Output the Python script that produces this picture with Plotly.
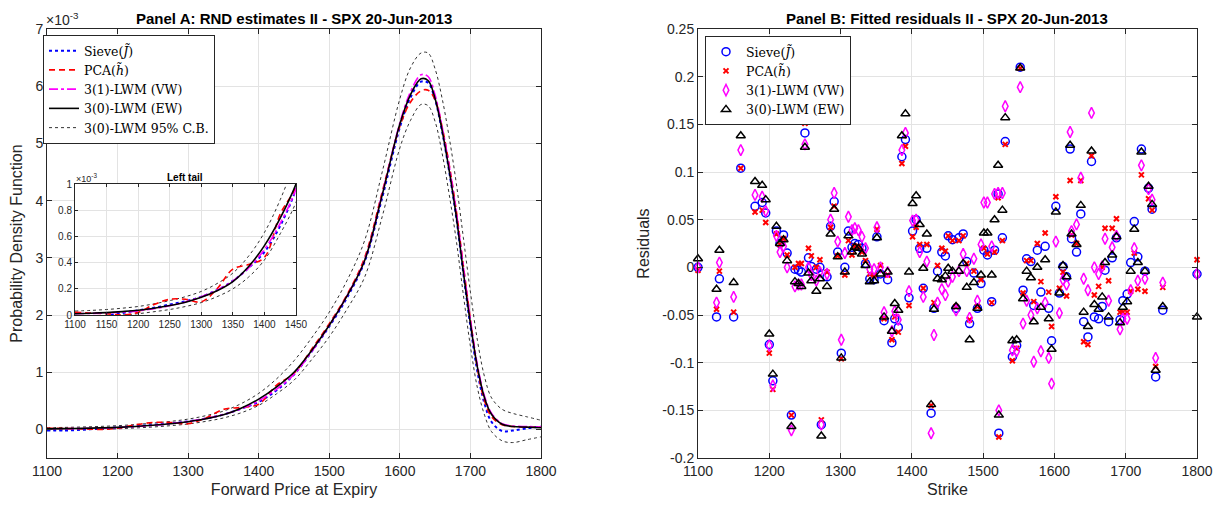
import plotly.graph_objects as go

# ---------------- Panel A data (density in units of 1e-3) ----------------
fwd_price = [1100, 1125, 1150, 1175, 1200, 1225, 1250, 1275, 1300, 1325, 1350, 1375,
             1400, 1425, 1450, 1475, 1500, 1525, 1550, 1575, 1600, 1615, 1630, 1640,
             1650, 1660, 1670, 1680, 1690, 1700, 1710, 1720, 1730, 1745, 1760, 1780, 1800]

pdf_sieve = [-0.02, -0.02, -0.005, 0.015, 0.035, 0.055, 0.08, 0.105, 0.14, 0.19, 0.26, 0.36,
             0.48, 0.68, 0.96, 1.36, 1.80, 2.30, 2.93, 4.05, 5.28, 5.80, 6.08, 6.06,
             5.76, 5.20, 4.50, 3.70, 2.72, 1.80, 1.00, 0.45, 0.13, -0.03, -0.02, 0.02, 0.05]

pdf_pca = [0.02, 0.015, 0.01, 0.0, 0.02, 0.08, 0.12, 0.12, 0.10, 0.20, 0.35, 0.385,
           0.44, 0.77, 0.98, 1.40, 1.85, 2.35, 3.00, 4.15, 5.30, 5.72, 5.92, 5.93,
           5.76, 5.28, 4.62, 3.82, 2.86, 1.92, 1.06, 0.50, 0.22, 0.08, 0.05, 0.04, 0.04]

pdf_vw = [0.01, 0.012, 0.016, 0.022, 0.032, 0.048, 0.07, 0.10, 0.14, 0.19, 0.26, 0.36,
          0.50, 0.70, 0.96, 1.36, 1.82, 2.33, 2.96, 4.12, 5.36, 5.90, 6.20, 6.17,
          5.84, 5.28, 4.60, 3.80, 2.84, 1.92, 1.12, 0.58, 0.28, 0.10, 0.06, 0.05, 0.04]

pdf_ew = [0.010, 0.013, 0.018, 0.026, 0.036, 0.052, 0.072, 0.098, 0.135, 0.185, 0.255, 0.37,
          0.53, 0.74, 1.00, 1.38, 1.82, 2.33, 2.95, 4.10, 5.34, 5.85, 6.13, 6.10,
          5.78, 5.22, 4.52, 3.72, 2.75, 1.85, 1.08, 0.55, 0.26, 0.09, 0.05, 0.04, 0.03]

pdf_cb_up = [0.03, 0.035, 0.042, 0.052, 0.065, 0.085, 0.11, 0.14, 0.18, 0.24, 0.32, 0.45,
             0.63, 0.88, 1.20, 1.60, 2.05, 2.60, 3.30, 4.50, 5.78, 6.32, 6.58, 6.58,
             6.30, 5.78, 5.10, 4.30, 3.35, 2.40, 1.55, 0.92, 0.55, 0.35, 0.28, 0.22, 0.16]

pdf_cb_lo = [-0.015, -0.012, -0.006, 0.0, 0.01, 0.025, 0.042, 0.065, 0.095, 0.14, 0.20, 0.29,
             0.42, 0.62, 0.86, 1.22, 1.62, 2.10, 2.66, 3.72, 4.92, 5.40, 5.68, 5.66,
             5.38, 4.82, 4.10, 3.30, 2.35, 1.45, 0.72, 0.25, -0.04, -0.20, -0.23, -0.18, -0.13]

# ---------------- Panel B data (residuals) ----------------
strike = [1100, 1126, 1130, 1150, 1160, 1180, 1190, 1195, 1200, 1205, 1210, 1215, 1220, 1225,
          1231, 1236, 1241, 1245, 1250, 1255, 1259, 1266, 1271, 1273, 1281, 1286, 1291, 1296,
          1301, 1306, 1311, 1316, 1320, 1325, 1330, 1335, 1341, 1347, 1351, 1356, 1361, 1366,
          1372, 1376, 1381, 1386, 1391, 1396, 1401, 1406, 1411, 1416, 1421, 1427, 1431, 1436,
          1442, 1447, 1451, 1457, 1462, 1466, 1472, 1477, 1481, 1487, 1492, 1497, 1501, 1506,
          1512, 1516, 1521, 1522, 1527, 1531, 1541, 1547, 1552, 1556, 1561, 1567, 1571, 1576,
          1581, 1587, 1592, 1596, 1602, 1607, 1612, 1617, 1622, 1624, 1631, 1637, 1641, 1647,
          1652, 1656, 1662, 1667, 1671, 1676, 1681, 1687, 1692, 1696, 1702, 1707, 1712, 1717,
          1722, 1727, 1732, 1737, 1742, 1752, 1800]

res_sieve = [0.000, -0.052, -0.012, -0.052, 0.104, 0.064, 0.068, 0.057, -0.081, -0.119, 0.038, 0.025, 0.034, 0.015,
             -0.155, -0.002, -0.003, -0.005, 0.141, 0.010, 0.001, -0.002, 0.000, -0.165, -0.010, 0.043, 0.069, 0.016,
             -0.090, 0.000, 0.038, 0.021, 0.025, 0.024, 0.020, 0.004, -0.012, -0.013, 0.032, -0.007, -0.056, -0.013,
             -0.079, -0.054, -0.063, 0.116, 0.134, -0.032, 0.038, 0.050, 0.020, -0.022, 0.020, -0.153, -0.043, -0.004,
             0.016, 0.012, 0.033, 0.029, -0.043, 0.031, 0.035, 0.006, -0.059, -0.006, -0.043, -0.017, 0.018, 0.013,
             -0.036, 0.018, 0.077, -0.174, 0.031, 0.132, -0.094, -0.082, 0.210, -0.024, 0.009, 0.006, -0.040, 0.018,
             -0.026, 0.022, -0.043, -0.077, 0.064, -0.027, 0.001, -0.010, 0.124, 0.030, 0.016, 0.056, -0.057, -0.073,
             0.111, -0.052, -0.054, -0.041, -0.003, -0.057, 0.010, 0.031, -0.055, -0.035, -0.028, 0.005, 0.048, 0.011,
             0.124, -0.004, 0.083, 0.061, -0.115, -0.045, -0.007]

res_pca = [-0.003, -0.044, -0.004, -0.047, 0.104, 0.058, 0.060, 0.047, -0.090, -0.128, 0.035, 0.024, 0.030, 0.013,
           -0.155, 0.000, 0.004, 0.004, 0.151, 0.020, 0.012, 0.000, 0.008, -0.160, -0.005, 0.042, 0.064, 0.012,
           -0.096, -0.008, 0.028, 0.013, 0.022, 0.022, 0.016, 0.007, -0.007, -0.008, 0.040, 0.002, -0.054, -0.008,
           -0.076, -0.052, -0.068, 0.109, 0.127, -0.040, 0.032, 0.042, 0.024, -0.022, 0.024, -0.145, -0.037, 0.002,
           0.020, 0.017, 0.033, 0.028, -0.041, 0.028, 0.033, 0.004, -0.055, -0.004, -0.041, -0.013, 0.020, 0.014,
           -0.037, 0.016, 0.073, -0.178, 0.028, 0.129, -0.098, -0.085, 0.209, -0.027, 0.007, 0.007, -0.036, 0.025,
           -0.015, 0.036, -0.026, -0.062, 0.074, -0.022, -0.005, -0.030, 0.091, 0.034, 0.025, 0.091, -0.078, -0.081,
           0.117, -0.029, -0.020, 0.000, 0.041, -0.014, 0.041, 0.051, -0.047, -0.047, -0.047, -0.025, 0.015, -0.023,
           0.097, -0.025, 0.072, 0.060, -0.104, -0.021, 0.008]

res_vw = [0.000, -0.037, 0.005, -0.031, 0.123, 0.076, 0.074, 0.059, -0.082, -0.124, 0.033, 0.016, 0.022, 0.000,
          -0.171, -0.020, -0.018, -0.018, 0.129, 0.000, -0.008, -0.014, -0.005, -0.165, -0.007, 0.050, 0.078, 0.027,
          -0.076, 0.015, 0.053, 0.039, 0.041, 0.039, 0.032, 0.020, -0.002, -0.002, 0.042, 0.000, -0.047, -0.005,
          -0.067, -0.046, -0.055, 0.123, 0.141, -0.025, 0.049, 0.050, 0.016, -0.031, 0.006, -0.174, -0.071, -0.037,
          -0.023, -0.029, -0.015, -0.010, -0.045, -0.004, 0.014, -0.004, -0.053, 0.009, -0.035, 0.024, 0.068, 0.068,
          0.022, 0.077, 0.078, -0.150, 0.078, 0.169, -0.087, -0.088, 0.189, -0.059, -0.035, -0.050, -0.099, -0.043,
          -0.088, -0.037, -0.095, -0.122, 0.027, -0.048, -0.013, -0.018, 0.142, 0.038, 0.045, 0.094, -0.012, -0.024,
          0.162, 0.000, -0.007, 0.001, 0.030, -0.035, 0.021, 0.033, -0.065, -0.054, -0.054, -0.024, 0.020, -0.014,
          0.107, -0.012, 0.082, 0.071, -0.095, -0.016, -0.007]

res_ew = [0.009, -0.023, 0.018, -0.016, 0.138, 0.090, 0.086, 0.071, -0.070, -0.112, 0.043, 0.025, 0.029, 0.007,
          -0.167, -0.015, -0.017, -0.020, 0.126, -0.006, -0.014, -0.025, -0.012, -0.177, -0.020, 0.035, 0.061, 0.011,
          -0.095, -0.005, 0.033, 0.016, 0.021, 0.020, 0.014, 0.002, -0.015, -0.014, 0.031, -0.007, -0.052, -0.005,
          -0.067, -0.038, -0.045, 0.138, 0.161, -0.005, 0.067, 0.075, 0.045, -0.001, 0.035, -0.144, -0.044, -0.012,
          -0.013, -0.009, -0.001, -0.004, -0.041, -0.004, 0.004, -0.021, -0.076, -0.016, -0.043, -0.008, 0.036, 0.036,
          -0.008, 0.050, 0.107, -0.155, 0.060, 0.157, -0.077, -0.076, 0.209, -0.033, -0.004, -0.011, -0.057, 0.000,
          -0.042, 0.008, -0.054, -0.086, 0.058, -0.027, 0.002, -0.010, 0.128, 0.035, 0.024, 0.065, -0.047, -0.062,
          0.122, -0.039, -0.044, -0.031, 0.005, -0.052, 0.013, 0.032, -0.058, -0.042, -0.036, -0.004, 0.040, 0.005,
          0.121, -0.004, 0.085, 0.066, -0.108, -0.041, -0.052]

# ---------------- tick labels ----------------
xticks_main = [1100, 1200, 1300, 1400, 1500, 1600, 1700, 1800]
yticks_a = [0, 1, 2, 3, 4, 5, 6, 7]
xticks_inset = [1100, 1150, 1200, 1250, 1300, 1350, 1400, 1450]
yticks_inset = [0, 0.2, 0.4, 0.6, 0.8, 1]
yticks_inset_text = ["0", "0.2", "0.4", "0.6", "0.8", "1"]
yticks_b = [-0.2, -0.15, -0.1, -0.05, 0, 0.05, 0.1, 0.15, 0.2, 0.25]
yticks_b_text = ["-0.2", "-0.15", "-0.1", "-0.05", "0", "0.05", "0.1", "0.15", "0.2", "0.25"]

SANS = "Liberation Sans, Arial, Helvetica, sans-serif"
SERIF = "DejaVu Serif, Liberation Serif, serif"
AX = "#262626"
GRID = "#e3e3e3"

W, H = 1226, 512
OFF = 8  # page body margin offset


def px(x):
    return (x - OFF) / W


def py(y):
    return 1 - (y - OFF) / H


fig = go.Figure()

line_series = [
    ("Sieve(<i>J̃</i>)", pdf_sieve, dict(color="#0000ff", width=2, dash="dot"), 1),
    ("PCA(<i>h̃</i>)", pdf_pca, dict(color="#ff0000", width=1.6, dash="6px,4px"), 2),
    ("3(1)-LWM (VW)", pdf_vw, dict(color="#ff00ff", width=1.6, dash="dashdot"), 3),
    ("3(0)-LWM (EW)", pdf_ew, dict(color="#000000", width=1.6), 4),
]
cb_line = dict(color="#333333", width=1, dash="dot")

for xa, ya, show in [("x", "y", True), ("x3", "y3", False)]:
    fig.add_trace(go.Scatter(x=fwd_price, y=pdf_cb_up, mode="lines", line=cb_line, line_shape="spline",
                             name="3(0)-LWM 95% C.B.", legend="legend", legendrank=5,
                             showlegend=show, xaxis=xa, yaxis=ya, hoverinfo="skip"))
    fig.add_trace(go.Scatter(x=fwd_price, y=pdf_cb_lo, mode="lines", line=cb_line, line_shape="spline",
                             name="3(0)-LWM 95% C.B.", showlegend=False, xaxis=xa, yaxis=ya, hoverinfo="skip"))
    for name, ys, ln, rank in line_series:
        fig.add_trace(go.Scatter(x=fwd_price, y=ys, mode="lines", line=ln, line_shape="spline",
                                 name=name, legend="legend", legendrank=rank,
                                 showlegend=show, xaxis=xa, yaxis=ya, hoverinfo="skip"))

marker_series = [
    ("Sieve(<i>J̃</i>)", res_sieve, dict(symbol="circle-open", size=8, color="#0000ff", line=dict(width=1.5, color="#0000ff"))),
    ("PCA(<i>h̃</i>)", res_pca, dict(symbol="x-thin-open", size=5, color="#ff0000", line=dict(width=2, color="#ff0000"))),
    ("3(1)-LWM (VW)", res_vw, dict(symbol="diamond-tall-open", size=8, color="#ff00ff", line=dict(width=1.5, color="#ff00ff"))),
    ("3(0)-LWM (EW)", res_ew, dict(symbol="triangle-up-open", size=8, color="#000000", line=dict(width=1.5, color="#000000"))),
]
for name, ys, mk in marker_series:
    fig.add_trace(go.Scatter(x=strike, y=ys, mode="markers", marker=mk, name=name,
                             legend="legend2", xaxis="x2", yaxis="y2", cliponaxis=False))


def axis_style(**kw):
    d = dict(showline=True, linecolor=AX, linewidth=1, mirror="ticks", ticks="inside",
             ticklen=5, tickcolor=AX, showgrid=True, gridcolor=GRID, gridwidth=1,
             zeroline=False, automargin=False, tickfont=dict(family=SANS, size=14, color=AX))
    d.update(kw)
    return d


fig.update_layout(
    width=W, height=H,
    margin=dict(l=0, r=0, t=0, b=0, autoexpand=False),
    paper_bgcolor="white", plot_bgcolor="white",
    font=dict(family=SANS, color=AX),
    xaxis=axis_style(domain=[px(47), px(541)], range=[1100, 1800], tickvals=xticks_main,
                     anchor="y", title=dict(text="Forward Price at Expiry", font=dict(size=16, color=AX), standoff=6)),
    yaxis=axis_style(domain=[py(458), py(29)], range=[-0.5, 7], tickvals=yticks_a,
                     anchor="x", title=dict(text="Probability Density Function", font=dict(size=16, color=AX), standoff=8)),
    xaxis2=axis_style(domain=[px(698), px(1197)], range=[1100, 1800], tickvals=xticks_main,
                      anchor="y2", title=dict(text="Strike", font=dict(size=16, color=AX), standoff=6)),
    yaxis2=axis_style(domain=[py(458), py(29)], range=[-0.2, 0.25], tickvals=yticks_b, ticktext=yticks_b_text,
                      anchor="x2", title=dict(text="Residuals", font=dict(size=16, color=AX), standoff=8)),
    xaxis3=axis_style(domain=[px(75), px(296)], range=[1100, 1450], tickvals=xticks_inset, anchor="y3",
                      ticklen=3, tickfont=dict(family=SANS, size=10, color=AX)),
    yaxis3=axis_style(domain=[py(315), py(184)], range=[0, 1], tickvals=yticks_inset, ticktext=yticks_inset_text,
                      anchor="x3", ticklen=3, tickfont=dict(family=SANS, size=10, color=AX)),
    legend=dict(x=px(43), y=py(35), xanchor="left", yanchor="top", bgcolor="white",
                bordercolor=AX, borderwidth=1, font=dict(family=SERIF, size=12.5, color="#000000"),
                tracegroupgap=0, itemwidth=30, traceorder="normal"),
    legend2=dict(x=px(705), y=py(36), xanchor="left", yanchor="top", bgcolor="white",
                 bordercolor=AX, borderwidth=1, font=dict(family=SERIF, size=12.5, color="#000000"),
                 tracegroupgap=0, itemwidth=30),
    showlegend=True,
)

annotations = [
    dict(text="<b>Panel A: RND estimates II - SPX 20-Jun-2013</b>", x=px(294), y=1.0, yanchor="top",
         font=dict(family=SANS, size=15, color="#000000")),
    dict(text="<b>Panel B: Fitted residuals II - SPX 20-Jun-2013</b>", x=px(947), y=1.0, yanchor="top",
         font=dict(family=SANS, size=15, color="#000000")),
    dict(text="×10<sup>-3</sup>", x=px(44), y=1.0, xanchor="left", yanchor="top",
         font=dict(family=SANS, size=14, color=AX)),
    dict(text="<b>Left tail</b>", x=px(185), y=py(177),
         font=dict(family=SANS, size=10, color="#000000")),
    dict(text="×10<sup>-3</sup>", x=px(74), y=py(178), xanchor="left",
         font=dict(family=SANS, size=9, color=AX)),
]
for a in annotations:
    a.update(xref="paper", yref="paper", showarrow=False)
    a.setdefault("yanchor", "middle")
    a.setdefault("xanchor", "center")
fig.update_layout(annotations=annotations)

fig.write_html("out.html")
